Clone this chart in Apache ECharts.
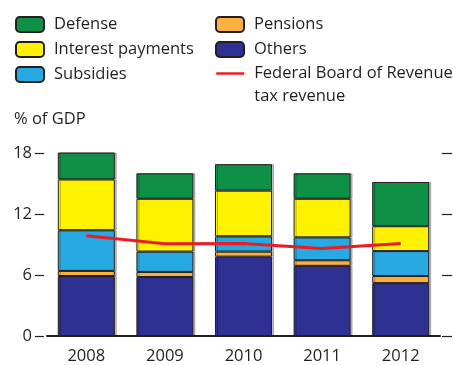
<!DOCTYPE html>
<html><head><meta charset="utf-8">
<script src="https://cdn.jsdelivr.net/npm/echarts@6/dist/echarts.min.js"></script>
<style>html,body{margin:0;padding:0;background:#fff}#c{width:453px;height:365px}</style>
</head><body><div id="c"></div>
<script>
const years = ['2008','2009','2010','2011','2012'];
const others = [5.9, 5.8, 7.8, 6.9, 5.2];
const pensions = [0.5, 0.5, 0.5, 0.55, 0.7];
const subsidies = [4.0, 2.0, 1.5, 2.25, 2.45];
const interest = [5.0, 5.2, 4.5, 3.8, 2.45];
const defense = [2.7, 2.5, 2.6, 2.5, 4.35];
const fbrRevenue = [9.85, 9.07, 9.1, 8.6, 9.1];
const yTicks = [0, 6, 12, 18];

const FONT = 'Open Sans';
const FS = 16.5;
const TXT = '#231f20';
const chart = echarts.init(document.getElementById('c'), null, {renderer:'canvas'});
const barStyle = (c) => ({color: c, borderColor: '#231f20', borderWidth: 1, shadowColor: 'rgba(0,0,0,0.25)', shadowOffsetX: 2, shadowBlur: 0});
const lt = {fontFamily: FONT, fontSize: FS, color: TXT, padding: [0,0,0,5]};
chart.setOption({
  animation: false,
  title: {text: '% of GDP', left: 14, top: 111, padding: 0, textStyle: {fontFamily: FONT, fontSize: FS, fontWeight: 'normal', color: TXT}},
  legend: [
    {data: ['Defense','Interest payments','Subsidies'], orient: 'vertical', left: 15, top: 16, itemWidth: 28, itemHeight: 15, itemGap: 8, padding: 0, textStyle: lt},
    {data: ['Pensions','Others'], orient: 'vertical', left: 215, top: 16, itemWidth: 28, itemHeight: 15, itemGap: 8, padding: 0, textStyle: lt},
    {data: ['Federal Board of Revenue tax revenue'], orient: 'vertical', left: 215, top: 39, itemWidth: 28, itemHeight: 15, padding: 0,
      formatter: () => '\nFederal Board of Revenue\ntax revenue',
      itemStyle: {color: 'rgba(0,0,0,0)', borderColor: 'rgba(0,0,0,0)', borderWidth: 0, opacity: 0},
      lineStyle: {color: '#ed1c24', width: 2.5},
      textStyle: {fontFamily: FONT, fontSize: FS, color: TXT, lineHeight: 23, padding: [0,0,0,5]}}
  ],
  grid: {left: 47, right: 13, top: 153, bottom: 27},
  xAxis: {type: 'category', data: years,
    axisLine: {lineStyle: {color: TXT, width: 2}},
    axisTick: {inside: true, length: 5, lineStyle: {color: TXT, width: 1.5}},
    axisLabel: {fontFamily: FONT, fontSize: FS, color: TXT, margin: 12}},
  yAxis: [
    {type: 'value', min: 0, max: 18, interval: 6, offset: 3,
      axisLine: {show: false}, splitLine: {show: false},
      axisTick: {show: true, length: 9, lineStyle: {color: TXT, width: 1.2}},
      axisLabel: {fontFamily: FONT, fontSize: FS, color: TXT, margin: 12, padding: [0,0,9,0],
        formatter: v => yTicks.includes(v) ? String(v) : ''}},
    {type: 'value', min: 0, max: 18, interval: 6, position: 'right', offset: 12,
      axisLine: {show: false}, splitLine: {show: false},
      axisTick: {show: true, inside: true, length: 10, lineStyle: {color: TXT, width: 1.2}},
      axisLabel: {show: false}}
  ],
  series: [
    {name: 'Others', type: 'bar', stack: 's', barWidth: 57, data: others, itemStyle: barStyle('#2e3192')},
    {name: 'Pensions', type: 'bar', stack: 's', data: pensions, itemStyle: barStyle('#fbb040')},
    {name: 'Subsidies', type: 'bar', stack: 's', data: subsidies, itemStyle: barStyle('#27aae1')},
    {name: 'Interest payments', type: 'bar', stack: 's', data: interest, itemStyle: barStyle('#fff200')},
    {name: 'Defense', type: 'bar', stack: 's', data: defense, itemStyle: barStyle('#0e9146')},
    {name: 'Federal Board of Revenue tax revenue', type: 'line', data: fbrRevenue, symbol: 'none', z: 5,
      lineStyle: {color: '#ed1c24', width: 3}, itemStyle: {color: '#ed1c24'}}
  ]
});
</script></body></html>
